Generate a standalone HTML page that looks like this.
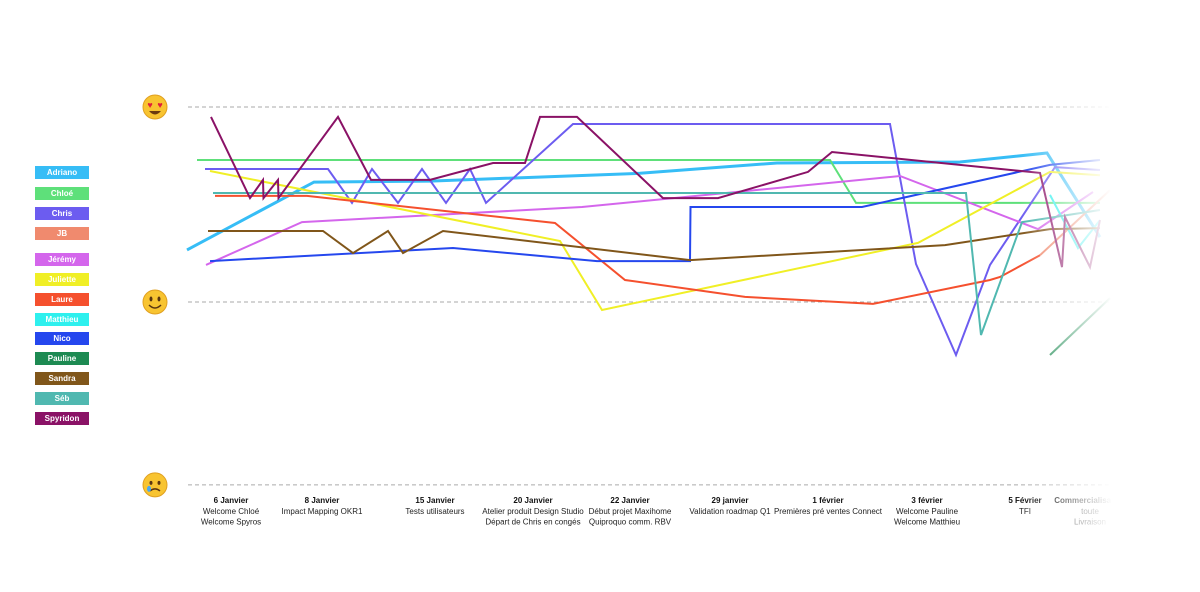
<!DOCTYPE html>
<html><head><meta charset="utf-8">
<style>
html,body{margin:0;padding:0;background:#fff;}
body{width:1200px;height:592px;overflow:hidden;position:relative;font-family:"Liberation Sans",sans-serif;}
#legend{position:absolute;left:35px;top:0;}
.lg{position:absolute;left:0;width:54px;height:13px;color:#fff;font-size:8px;font-weight:bold;text-align:center;line-height:13px;}
</style></head><body>
<div id="legend"></div>
<svg id="chart" width="1200" height="592" style="position:absolute;left:0;top:0">
<defs>
<linearGradient id="fade" x1="0" x2="1" y1="0" y2="0">
<stop offset="0" stop-color="#fff" stop-opacity="0"/>
<stop offset="1" stop-color="#fff" stop-opacity="1"/>
</linearGradient>
</defs>
<g id="grid"></g>
<g id="faces"></g>
<g id="lines"></g>
<g id="labels"></g>
<rect x="1020" y="60" width="92" height="500" fill="url(#fade)"/>
<rect x="1111" y="60" width="89" height="500" fill="#fff"/>
</svg>
<script>
const names=["Adriano","Chloé","Chris","JB","Jérémy","Juliette","Laure","Matthieu","Nico","Pauline","Sandra","Séb","Spyridon"];
const colors=["#36bdf6","#5ee07a","#6c5cf0","#f08a6e","#d466ec","#f0ef26","#f5502e","#2ef0ee","#2547ee","#1d8a52","#80561a","#50b8b0","#8a1266"];
const adrianoX=[0.7,13.4,25,46,59.7,78,86.7,92];
const adrianoY=[26.7,61.5,62,66,71.3,71.8,76.4,33.3];
const chloeX=[1.7,65,67.6,92];
const chloeY=[72.8,72.8,50.8,50.8];
const chrisX=[2.5,14.8,17.2,19.2,21.8,24.2,26.6,29,30.6,39.3,71,73.6,77.6,81,87.5,92];
const chrisY=[68.2,68.2,50.8,68.2,50.8,68.2,50.8,68.2,50.8,91.3,91.3,19.5,-27.2,19,69.2,67.7];
const jbX=[86,93];
const jbY=[24,57.4];
const jeremyX=[2.6,12.2,40.2,72,85.8,91.3];
const jeremyY=[19,41,48.7,64.6,37.4,56.4];
const julietteX=[3,38,42.2,73.8,87,92];
const julietteY=[67.2,31.3,-4.1,30.3,66.7,65];
const laureX=[3.5,12.7,37.5,44.5,56.5,69.3,81,82,86];
const laureY=[54.4,54.4,40.5,11.3,2.6,-1,11.3,12.8,24];
const matthieuX=[87,89.8,92];
const matthieuY=[54.9,27.7,42];
const nicoX=[3,27.3,41.7,51,51.05,68.2,87,92];
const nicoY=[21,27.7,21,21,48.7,48.7,70.3,72.8];
const paulineX=[87,93];
const paulineY=[-27.2,2];
const sandraX=[2.8,14.3,17.3,20.8,22.3,26.3,51,76.5,87,92];
const sandraY=[36.4,36.4,25.1,36.4,25.1,36.4,21.5,29.2,37.4,37.9];
const sebX=[3.3,78.6,80.1,84.2,92];
const sebY=[55.9,55.9,-16.9,41,47.2];
const spyX=[3.1,7,8.3,8.35,9.8,9.85,15.8,19.1,25,31.3,34.5,36,39.7,48.3,53.8,62.8,65.2,86,88.2,88.5,91,92];
const spyY=[94.9,53.3,62.6,53.3,62.6,53.3,94.9,62.6,62.6,71.3,71.3,94.9,94.9,53.3,53.3,66.7,76.9,66.2,17.9,43.6,17.9,42];
const seriesX=[adrianoX,chloeX,chrisX,jbX,jeremyX,julietteX,laureX,matthieuX,nicoX,paulineX,sandraX,sebX,spyX];
const seriesY=[adrianoY,chloeY,chrisY,jbY,jeremyY,julietteY,laureY,matthieuY,nicoY,paulineY,sandraY,sebY,spyY];
const gridValues=[100,0,-93.8];
const eventDates=["6 Janvier","8 Janvier","15 Janvier","20 Janvier","22 Janvier","29 janvier","1 février","3 février","5 Février","Commercialisation"];
const eventText=[["Welcome Chloé","Welcome Spyros"],["Impact Mapping OKR1"],["Tests utilisateurs"],["Atelier produit Design Studio","Départ de Chris en congés"],["Début projet Maxihome","Quiproquo comm. RBV"],["Validation roadmap Q1"],["Premières pré ventes Connect"],["Welcome Pauline","Welcome Matthieu"],["TFI"],["toute","Livraison"]];
const eventX=[5.1,14.2,25.5,35.3,45,55,64.8,74.7,84.5,91];

const sx=v=>180+v*10;
const sy=v=>302-v*1.95;
const NS="http://www.w3.org/2000/svg";
function mk(t,a,p){const e=document.createElementNS(NS,t);for(const k in a)e.setAttribute(k,a[k]);p.appendChild(e);return e;}

const grid=document.getElementById('grid');
gridValues.forEach(v=>{
  const l=mk('line',{x1:188,x2:1110,y1:sy(v),y2:sy(v),stroke:'#aaa','stroke-dasharray':'4 3','stroke-width':1},grid);
  
  
});

const faces=document.getElementById('faces');
const faceNames=['face-love','face-smile','face-sad'];
gridValues.forEach((v,i)=>{
  const g=mk('g',{},faces);
  
  
  const cx=155,cy=sy(v);
  mk('circle',{cx:cx,cy:cy,r:12,fill:'#f8c431',stroke:'#e0a020','stroke-width':1},g);
  if(i===0){
    mk('text',{x:cx-5,y:cy+1,'font-size':9,fill:'#e0203a','text-anchor':'middle'},g).textContent='♥';
    mk('text',{x:cx+5,y:cy+1,'font-size':9,fill:'#e0203a','text-anchor':'middle'},g).textContent='♥';
    mk('path',{d:`M${cx-6} ${cy+4} Q${cx} ${cy+11} ${cx+6} ${cy+4} Z`,fill:'#6b3a10'},g);
  }else if(i===1){
    mk('ellipse',{cx:cx-4,cy:cy-3,rx:1.5,ry:2.5,fill:'#5a3510'},g);
    mk('ellipse',{cx:cx+4,cy:cy-3,rx:1.5,ry:2.5,fill:'#5a3510'},g);
    mk('path',{d:`M${cx-6} ${cy+3} Q${cx} ${cy+9} ${cx+6} ${cy+3}`,fill:'none',stroke:'#5a3510','stroke-width':1.5},g);
  }else{
    mk('ellipse',{cx:cx-4,cy:cy-2,rx:1.5,ry:2,fill:'#5a3510'},g);
    mk('ellipse',{cx:cx+4,cy:cy-2,rx:1.5,ry:2,fill:'#5a3510'},g);
    mk('path',{d:`M${cx-5} ${cy+6} Q${cx} ${cy+2} ${cx+5} ${cy+6}`,fill:'none',stroke:'#5a3510','stroke-width':1.5},g);
    mk('ellipse',{cx:cx-6,cy:cy+4,rx:2,ry:3,fill:'#4aa8f0'},g);
  }
});

const lines=document.getElementById('lines');
seriesX.forEach((xs,i)=>{
  const pts=xs.map((x,j)=>sx(x).toFixed(1)+','+sy(seriesY[i][j]).toFixed(1)).join(' ');
  const pl=mk('polyline',{points:pts,fill:'none',stroke:colors[i],'stroke-width':i===0?3:2,'stroke-linejoin':'miter'},lines);
  
  
});

const legend=document.getElementById('legend');
const legendTop=[166,187,207,227,253,273,293,313,332,352,372,392,412];
names.forEach((n,i)=>{
  const d=document.createElement('div');
  d.className='lg';
  d.style.top=legendTop[i]+'px';
  d.style.background=colors[i];
  d.textContent=n;
  
  
  legend.appendChild(d);
});

const labels=document.getElementById('labels');
eventDates.forEach((d,i)=>{
  const g=mk('g',{},labels);
  
  
  const x=sx(eventX[i]);
  mk('text',{x:x,y:503,'font-size':8,'font-weight':'bold','text-anchor':'middle',fill:'#111'},g).textContent=d;
  eventText[i].forEach((t,k)=>{
    mk('text',{x:x,y:514+k*10.5,'font-size':8,'text-anchor':'middle',fill:'#222'},g).textContent=t;
  });
});
</script>
</body></html>
